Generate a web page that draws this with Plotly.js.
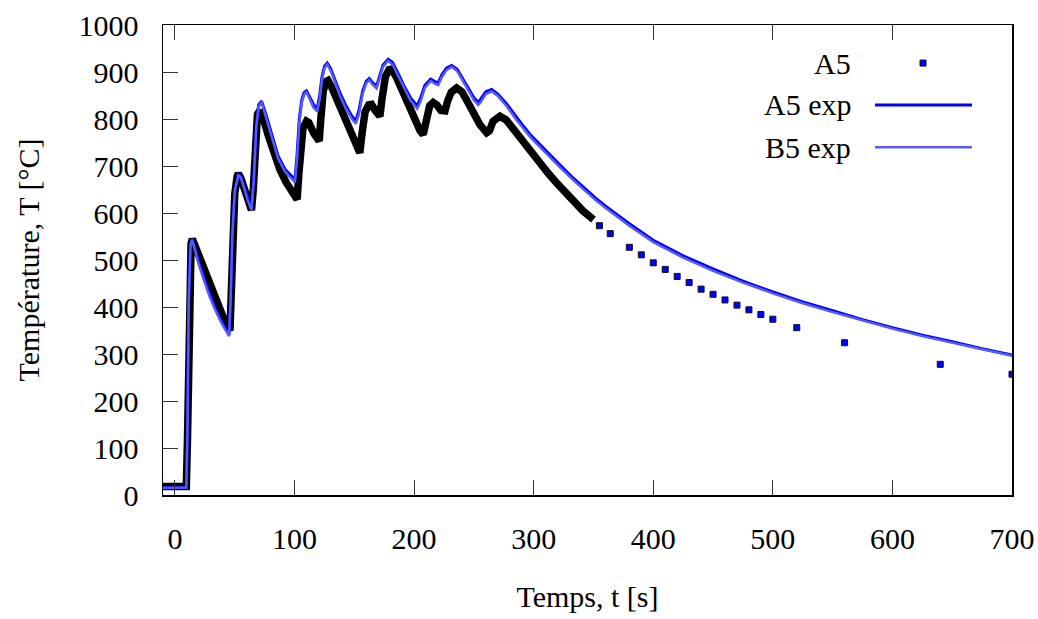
<!DOCTYPE html>
<html>
<head>
<meta charset="utf-8">
<script src="https://cdn.plot.ly/plotly-3.0.1.min.js"></script>
<style>
html,body{margin:0;padding:0;background:#fff;}
#chart{width:1038px;height:619px;}
</style>
</head>
<body>
<div id="chart"></div>
<script>
// Series names
var seriesNames = ["A5", "A5 exp", "B5 exp"];

// A5 (dense part, t <= 350 s)
var tA5 = [-10, 9.5, 10.5, 11.5, 12.5, 13.5, 14.5, 16, 18, 22, 27.7, 32, 36, 41, 46, 47, 48, 50, 52, 53, 55, 58, 61, 64, 65.5, 67, 69, 71, 74, 78, 82, 87.7, 93, 98, 102.2, 103.5, 105, 107, 110, 112, 116, 120.6, 122, 124, 126.5, 128, 131, 136, 140.7, 146, 151, 154.6, 156.5, 159, 162, 164.4, 167.5, 171.4, 173, 176, 179, 181.2, 185, 190, 195, 200, 205, 207.6, 210, 213, 216, 219, 222.5, 225.8, 228, 231, 235.5, 240, 245, 250, 255, 260.7, 263, 266, 271.8, 277, 283, 291.3, 298, 305.3, 312, 319.2, 326, 333.1, 341, 350];
var TA5 = [18, 18, 120, 330, 480, 535, 545, 535, 520, 490, 458, 428, 401, 374, 350, 420, 540, 640, 678, 684, 675, 650, 625, 606, 650, 760, 810, 818, 800, 765, 730, 693, 665, 645, 629, 680, 740, 780, 795, 792, 770, 753, 800, 860, 880, 882, 868, 838, 806, 775, 745, 728, 770, 815, 830, 831, 818, 806, 840, 890, 905, 906, 890, 860, 830, 800, 775, 767, 795, 828, 835, 830, 818, 817, 838, 857, 866, 858, 835, 810, 788, 771, 775, 795, 806, 798, 778, 750, 728, 707, 685, 664, 644, 625, 605, 586];

// A5 (sparse points, t > 350 s)
var tA5s = [355, 364, 380, 390, 400, 410, 420, 430, 440, 450, 460, 470, 480, 490, 500, 520, 560, 640, 700];
var TA5s = [573, 556, 527, 511, 494, 480, 465, 452, 438, 427, 415, 404, 394, 384, 374, 356, 324, 278, 257];

// A5 exp
var tA5e = [-10, 0, 9.5, 10.5, 11.5, 13, 14.3, 16, 20, 24.9, 29, 33.3, 39, 45.3, 46.5, 48, 50, 53, 55, 58, 61, 64, 66, 68, 70, 72.4, 76, 81, 86.3, 92, 96, 100.3, 102, 104, 106, 108, 110, 113, 116, 119, 121, 123, 125, 127.3, 130, 134, 137.9, 143, 148, 151.3, 154, 157, 160, 162.5, 165, 168.6, 171, 174, 178.3, 182, 187, 192, 197, 202.6, 205.5, 209, 213.8, 217, 220.2, 223, 227, 231.4, 236, 241, 246, 250, 253.6, 256, 260, 264.8, 270, 277.4, 285, 291.3, 297, 305.3, 312, 322, 333.1, 342, 352, 361, 380, 400, 425, 450, 475, 500, 525, 550, 575, 600, 625, 650, 675, 700];
var TA5e = [16, 16, 17, 150, 420, 535, 545, 532, 495, 458, 428, 401, 370, 342, 420, 560, 650, 682, 678, 655, 630, 610, 680, 790, 830, 838, 810, 765, 721, 693, 682, 671, 720, 800, 840, 856, 860, 845, 830, 822, 850, 890, 912, 919, 908, 882, 856, 828, 806, 796, 820, 860, 880, 886, 878, 870, 890, 915, 927, 920, 895, 868, 845, 828, 845, 872, 885, 880, 877, 893, 908, 914, 906, 885, 862, 845, 835, 843, 858, 863, 853, 832, 805, 785, 767, 745, 727, 702, 674, 653, 631, 613, 577, 542, 509, 481, 455, 432, 411, 392, 373, 356, 340, 326, 311, 298];

// B5 exp
var tB5e = [-10, 0, 9.5, 10.5, 11.5, 13, 14.3, 16, 20, 24.9, 29, 33.3, 39, 45.3, 46.5, 48, 50, 53, 55, 58, 61, 64, 66, 68, 70, 72.4, 76, 81, 86.3, 92, 96, 100.3, 102, 104, 106, 108, 110, 113, 116, 119, 121, 123, 125, 127.3, 130, 134, 137.9, 143, 148, 151.3, 154, 157, 160, 162.5, 165, 168.6, 171, 174, 178.3, 182, 187, 192, 197, 202.6, 205.5, 209, 213.8, 217, 220.2, 223, 227, 231.4, 236, 241, 246, 250, 253.6, 256, 260, 264.8, 270, 277.4, 285, 291.3, 297, 305.3, 312, 322, 333.1, 342, 352, 361, 380, 400, 425, 450, 475, 500, 525, 550, 575, 600, 625, 650, 675, 700];
var TB5e = [15, 15, 16, 140, 410, 530, 543, 528, 490, 452, 422, 396, 365, 338, 410, 552, 646, 680, 676, 652, 626, 606, 672, 782, 826, 836, 806, 760, 716, 688, 677, 665, 712, 792, 834, 852, 857, 840, 824, 816, 842, 884, 908, 916, 904, 877, 850, 822, 800, 790, 812, 854, 876, 883, 874, 865, 884, 911, 924, 916, 890, 863, 839, 822, 838, 866, 881, 876, 872, 888, 904, 911, 902, 880, 857, 840, 830, 837, 853, 859, 849, 827, 800, 780, 762, 740, 722, 697, 670, 649, 627, 609, 573, 538, 505, 477, 452, 429, 408, 389, 371, 354, 338, 324, 309, 296];

// Axis ticks
var xTicks = [0, 100, 200, 300, 400, 500, 600, 700];
var yTicks = [0, 100, 200, 300, 400, 500, 600, 700, 800, 900, 1000];

var FONT = "Liberation Serif, Times New Roman, serif";
var cA5e = "#0000f0";
var cB5e = "#5858ff";

var traces = [
  {x: tA5, y: TA5, type: "scatter", mode: "lines", line: {color: "#000000", width: 7.5}, name: seriesNames[0], showlegend: false, hoverinfo: "skip"},
  {x: tA5s, y: TA5s, type: "scatter", mode: "markers", marker: {symbol: "square", size: 6, color: "#0000ff", line: {color: "#111111", width: 1}}, name: seriesNames[0], showlegend: false},
  {x: tA5e, y: TA5e, type: "scatter", mode: "lines", line: {color: cA5e, width: 3}, name: seriesNames[1], showlegend: false},
  {x: tB5e, y: TB5e, type: "scatter", mode: "lines", line: {color: cB5e, width: 2.5}, name: seriesNames[2], showlegend: false}
];

// custom gnuplot-like legend (text on the left, sample on the right)
var legY = [0.919, 0.830, 0.740];
var annotations = seriesNames.map(function(n, i){
  return {xref: "paper", yref: "paper", x: 0.8127, y: legY[i], xanchor: "right", yanchor: "middle",
          text: n, showarrow: false, font: {family: FONT, size: 30, color: "#000"}};
});
var shapes = [
  {type: "rect", xref: "paper", yref: "paper", xsizemode: "pixel", ysizemode: "pixel",
   xanchor: 0.8952, yanchor: legY[0], x0: -3, x1: 3, y0: -3, y1: 3,
   fillcolor: "#0000ff", line: {color: "#111111", width: 1}},
  {type: "line", xref: "paper", yref: "paper", x0: 0.8386, x1: 0.9529, y0: legY[1], y1: legY[1],
   line: {color: cA5e, width: 3}},
  {type: "line", xref: "paper", yref: "paper", x0: 0.8386, x1: 0.9529, y0: legY[2], y1: legY[2],
   line: {color: cB5e, width: 2.5}}
];

var layout = {
  width: 1038, height: 619,
  margin: {l: 163, r: 26, t: 25, b: 124},
  paper_bgcolor: "#ffffff", plot_bgcolor: "#ffffff",
  showlegend: false,
  font: {family: FONT, size: 30, color: "#000"},
  xaxis: {
    range: [-10, 700], tickvals: xTicks, ticktext: xTicks.map(String),
    ticks: "inside", ticklen: 15, tickwidth: 1, tickcolor: "#333",
    showline: true, linecolor: "#000", linewidth: 1.5, mirror: "ticks",
    showgrid: false, zeroline: false,
    tickfont: {family: FONT, size: 30, color: "#000"},
    ticklabelstandoff: 16,
    title: {text: "Temps, t [s]", font: {family: FONT, size: 30, color: "#000"}, standoff: 32}
  },
  yaxis: {
    range: [0, 1000], tickvals: yTicks, ticktext: yTicks.map(String),
    ticks: "inside", ticklen: 15, tickwidth: 1, tickcolor: "#333",
    showline: true, linecolor: "#000", linewidth: 1.5, mirror: true,
    showgrid: false, zeroline: false,
    tickfont: {family: FONT, size: 30, color: "#000"},
    ticklabelstandoff: 17,
    title: {text: "Température, T [°C]", font: {family: FONT, size: 30, color: "#000"}, standoff: 30}
  },
  annotations: annotations,
  shapes: shapes
};

Plotly.newPlot("chart", traces, layout, {staticPlot: true, displayModeBar: false});
</script>
</body>
</html>
